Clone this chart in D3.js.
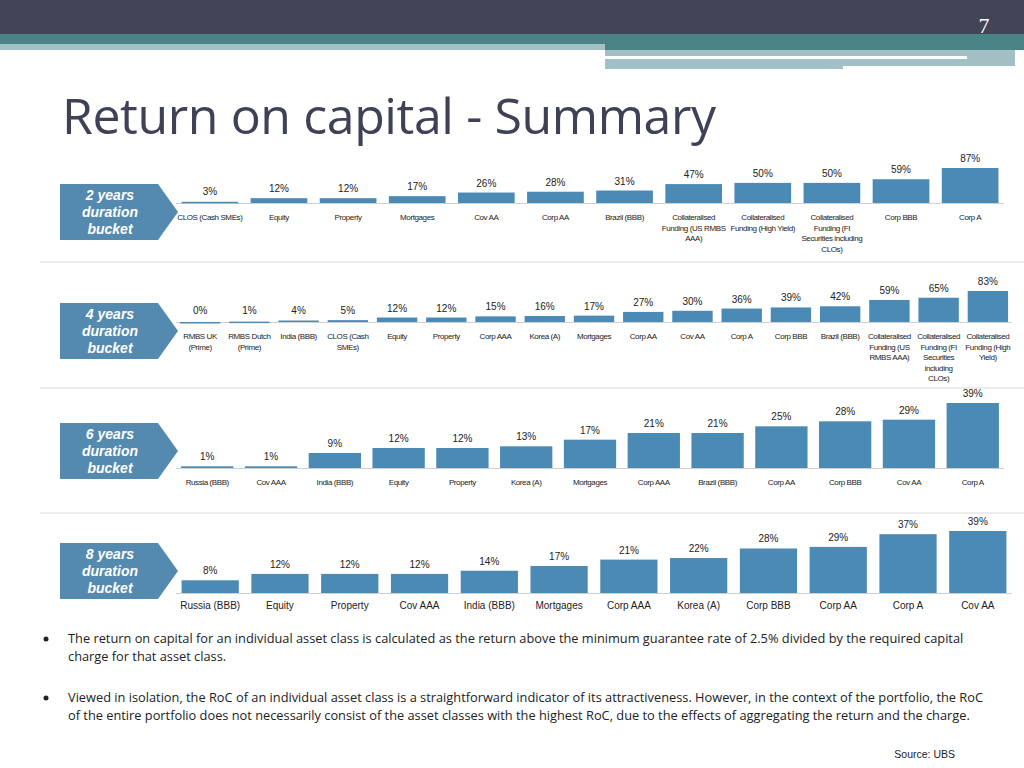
<!DOCTYPE html>
<html><head><meta charset="utf-8">
<script src="https://cdn.jsdelivr.net/npm/d3@7"></script>
<style>body{margin:0;background:#fff}svg{display:block;font-family:Arial,"Liberation Sans",sans-serif}</style>
</head><body><svg id="c" width="1024" height="768"></svg>
<script>
// categories and values per duration bucket
var cats2 = ["CLOS (Cash SMEs)", "Equity", "Property", "Mortgages", "Cov AA", "Corp AA", "Brazil (BBB)",
  "Collateralised|Funding (US RMBS|AAA)", "Collateralised|Funding (High Yield)", "Collateralised|Funding (FI|Securities including|CLOs)", "Corp BBB", "Corp A"];
var vals2 = [3, 12, 12, 17, 26, 28, 31, 47, 50, 50, 59, 87];
var cats4 = ["RMBS UK|(Prime)", "RMBS Dutch|(Prime)", "India (BBB)", "CLOS (Cash|SMEs)", "Equity", "Property", "Corp AAA", "Korea (A)", "Mortgages",
  "Corp AA", "Cov AA", "Corp A", "Corp BBB", "Brazil (BBB)", "Collateralised|Funding (US|RMBS AAA)", "Collateralised|Funding (FI|Securities|including|CLOs)", "Collateralised|Funding (High|Yield)"];
var vals4 = [0, 1, 4, 5, 12, 12, 15, 16, 17, 27, 30, 36, 39, 42, 59, 65, 83];
var cats6 = ["Russia (BBB)", "Cov AAA", "India (BBB)", "Equity", "Property", "Korea (A)", "Mortgages", "Corp AAA", "Brazil (BBB)", "Corp AA", "Corp BBB", "Cov AA", "Corp A"];
var vals6 = [1, 1, 9, 12, 12, 13, 17, 21, 21, 25, 28, 29, 39];
var cats8 = ["Russia (BBB)", "Equity", "Property", "Cov AAA", "India (BBB)", "Mortgages", "Corp AAA", "Korea (A)", "Corp BBB", "Corp AA", "Corp A", "Cov AA"];
var vals8 = [8, 12, 12, 12, 14, 17, 21, 22, 28, 29, 37, 39];

var svg = d3.select("#c");
var blue = "#4a8ab5";

// header bands
svg.append("rect").attr("x", 0).attr("y", 0).attr("width", 1024).attr("height", 34).attr("fill", "#424458");
svg.append("rect").attr("x", 0).attr("y", 34).attr("width", 1024).attr("height", 16).attr("fill", "#4a8385");
svg.append("rect").attr("x", 0).attr("y", 44).attr("width", 605).attr("height", 6).attr("fill", "#a3c1c3");
svg.append("rect").attr("x", 605).attr("y", 50).attr("width", 410).attr("height", 19).attr("fill", "#a3bfc6");
svg.append("rect").attr("x", 605).attr("y", 56).attr("width", 362).attr("height", 3).attr("fill", "#fff");
svg.append("rect").attr("x", 843).attr("y", 66).attr("width", 172).attr("height", 4).attr("fill", "#fff");
svg.append("text").attr("x", 984).attr("y", 33).attr("text-anchor", "middle").attr("fill", "#fff")
  .attr("font-family", "Liberation Serif, serif").attr("font-size", 22).text("7");
svg.append("text").attr("x", 62).attr("y", 134).attr("fill", "#3f4256").attr("font-size", 50)
  .attr("font-family", "Open Sans, sans-serif").attr("textLength", 654).text("Return on capital - Summary");

var panels = [
  {label: "2 years", cats: cats2, vals: vals2, x0: 176, x1: 1004, base: 203, h: 35, max: 87, top: 184, sep: 262, catFs: 8},
  {label: "4 years", cats: cats4, vals: vals4, x0: 176, x1: 1012, base: 322, h: 31, max: 83, top: 303, sep: 388, catFs: 8},
  {label: "6 years", cats: cats6, vals: vals6, x0: 176, x1: 1004, base: 468, h: 65, max: 39, top: 423, sep: 513, catFs: 8},
  {label: "8 years", cats: cats8, vals: vals8, x0: 176, x1: 1012, base: 593, h: 62, max: 39, top: 543, sep: null, catFs: 10}
];

panels.forEach(function(p) {
  var x = d3.scaleBand().domain(p.cats).range([p.x0, p.x1]).paddingInner(0.18).paddingOuter(0.08);
  var y = d3.scaleLinear().domain([0, p.max]).range([p.base, p.base - p.h]);
  var g = svg.append("g");

  // arrow label
  var ax = 60, aw = 118, ah = 56, ay = p.top;
  g.append("path").attr("d", "M" + ax + "," + ay + "H" + (ax + aw - 20) + "L" + (ax + aw) + "," + (ay + ah / 2) +
    "L" + (ax + aw - 20) + "," + (ay + ah) + "H" + ax + "Z").attr("fill", "#5489b0");
  [p.label, "duration", "bucket"].forEach(function(t, i) {
    g.append("text").attr("x", ax + 50).attr("y", ay + 16 + i * 17).attr("text-anchor", "middle")
      .attr("fill", "#fff").attr("font-size", 14).attr("font-weight", "bold").attr("font-style", "italic").text(t);
  });

  g.append("line").attr("x1", p.x0).attr("x2", p.x1).attr("y1", p.base + 0.5).attr("y2", p.base + 0.5).attr("stroke", "#d0d0d0");
  g.selectAll("rect.bar").data(p.vals).enter().append("rect")
    .attr("x", function(d, i) { return x(p.cats[i]); })
    .attr("y", function(d) { return y(d); })
    .attr("width", x.bandwidth())
    .attr("height", function(d) { return Math.max(p.base - y(d), 1.5); })
    .attr("fill", blue);
  g.selectAll("text.val").data(p.vals).enter().append("text")
    .attr("x", function(d, i) { return x(p.cats[i]) + x.bandwidth() / 2; })
    .attr("y", function(d) { return Math.min(y(d), p.base - 2) - 6; })
    .attr("text-anchor", "middle").attr("font-size", 10).attr("fill", "#222")
    .text(function(d) { return d + "%"; });
  p.cats.forEach(function(c, i) {
    c.split("|").forEach(function(line, j) {
      g.append("text").attr("x", x(c) + x.bandwidth() / 2).attr("y", p.base + (p.catFs < 9 ? 17 : 16) + j * 10.5)
        .attr("text-anchor", "middle").attr("font-size", p.catFs).attr("letter-spacing", p.catFs < 9 ? -0.4 : 0)
        .attr("fill", "#222").text(line);
    });
  });
  if (p.sep) g.append("line").attr("x1", 40).attr("x2", 1024).attr("y1", p.sep).attr("y2", p.sep).attr("stroke", "#d8d8d8");
});

// notes
var notes = [
  ["The return on capital for an individual asset class is calculated as the return above the minimum guarantee rate of 2.5% divided by the required capital",
   "charge for that asset class."],
  ["Viewed in isolation, the RoC of an individual asset class is a straightforward indicator of its attractiveness. However, in the context of the portfolio, the RoC",
   "of the entire portfolio does not necessarily consist of the asset classes with the highest RoC, due to the effects of aggregating the return and the charge."]
];
notes.forEach(function(n, i) {
  var y0 = 643 + i * 59;
  svg.append("circle").attr("cx", 46).attr("cy", y0 - 4).attr("r", 2.5).attr("fill", "#222");
  n.forEach(function(t, j) {
    svg.append("text").attr("x", 68).attr("y", y0 + j * 18).attr("font-size", 12.8).attr("fill", "#222")
      .attr("font-family", "Open Sans, sans-serif").text(t);
  });
});
svg.append("text").attr("x", 955).attr("y", 758).attr("text-anchor", "end").attr("font-size", 10.5).attr("fill", "#222").text("Source: UBS");
</script></body></html>
